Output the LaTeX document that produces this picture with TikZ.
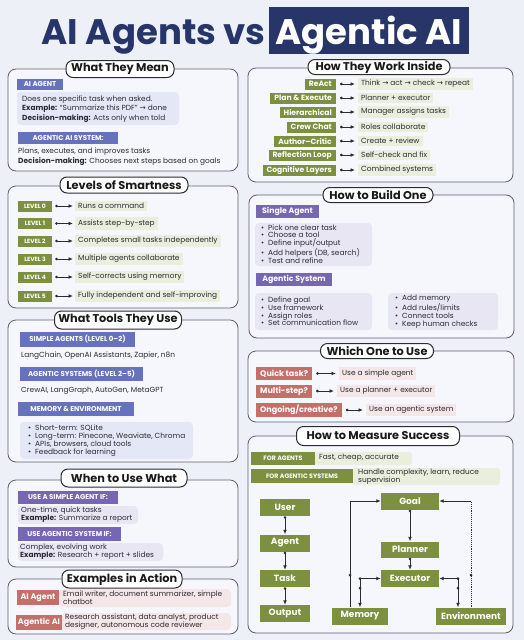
\documentclass[tikz,border=0pt]{standalone}
\usepackage{fontspec}
\setmainfont{Poppins}
\newfontfamily\arrfont{DejaVu Sans}
\usetikzlibrary{arrows.meta,calc}
\definecolor{bg}{HTML}{EEF0F8}
\definecolor{panelfill}{HTML}{F6F7FC}
\definecolor{panelline}{HTML}{5E5F6E}
\definecolor{navy}{HTML}{283569}
\definecolor{bluelab}{HTML}{6772BC}
\definecolor{purplelab}{HTML}{7766B4}
\definecolor{greenlab}{HTML}{7C9040}
\definecolor{redlab}{HTML}{C56F6A}
\definecolor{hlblue}{HTML}{E4E7F5}
\definecolor{hlpurple}{HTML}{E9E6F4}
\definecolor{hlgreen}{HTML}{EAEEDC}
\definecolor{hlred}{HTML}{F5E6E7}
\definecolor{ink}{HTML}{2B2B33}
\newcommand\mybul{\makebox[7pt][l]{•}}
\newcommand\rar{{\arrfont →}}
\begin{document}
\begin{tikzpicture}[x=1pt,y=-1pt,
  panel/.style={draw=panelline, line width=0.8pt, fill=panelfill, rounded corners=8pt},
  tab/.style={draw=ink, line width=1pt, fill=white, rounded corners=7pt, font=\bfseries\fontsize{11.3}{12}\selectfont, text=black!90, inner sep=0pt},
  lab/.style={text=white, font=\bfseries\fontsize{7}{8}\selectfont, inner sep=0pt},
  glab/.style={fill=greenlab, text=white, font=\bfseries\fontsize{7.6}{8.5}\selectfont, inner xsep=4pt, inner ysep=0pt, minimum height=11pt},
  rlab/.style={fill=redlab, text=white, font=\bfseries\fontsize{8}{9}\selectfont, inner xsep=4pt, inner ysep=0pt, minimum height=13pt, anchor=west},
  body/.style={font=\fontsize{7.4}{9.8}\selectfont, text=ink, inner sep=0pt, align=left, anchor=west},
  hl/.style={font=\fontsize{7.4}{8}\selectfont, text=ink, inner xsep=3pt, inner ysep=2.5pt, anchor=west, align=left},
  dnode/.style={fill=greenlab, text=white, font=\bfseries\fontsize{9}{10}\selectfont, inner sep=0pt, minimum height=17pt},
  conn/.style={draw=ink, line width=0.9pt, arrows={Circle[length=2.6pt]-Latex[length=4.5pt,width=3.8pt]}},
  arr/.style={draw=ink, line width=0.9pt, arrows={-Latex[length=4.5pt,width=3.8pt]}},
  arr2/.style={draw=ink, line width=0.9pt, arrows={Latex[length=4.5pt,width=3.8pt]-Latex[length=4.5pt,width=3.8pt]}}
]
\useasboundingbox (0,0) rectangle (524,640);
\fill[bg] (0,0) rectangle (524,640);

% ---------- Title ----------
\node[font=\bfseries\fontsize{35.5}{40}\selectfont, text=navy, anchor=base east, inner sep=0pt] (tA) at (266,44) {AI Agents vs};
\node[fill=navy, minimum width=200pt, minimum height=47pt, inner sep=0pt] (tB) at (369,30.5) {};
\node[font=\bfseries\fontsize{35.5}{40}\selectfont, text=white, anchor=base, inner sep=0pt] (tBt) at (369,44) {Agentic AI};

% ---------- What They Mean ----------
\draw[panel] (8,69) rectangle (238,171);
\node[tab, minimum width=108pt, minimum height=17pt] (t1) at (120,69) {What They Mean};
\node[lab, fill=bluelab, minimum width=46pt, minimum height=11pt] (aiag) at (40,84) {AI AGENT};
\fill[hlblue, rounded corners=4pt] (17,92) rectangle (179,125);
\node[body] (aiagtx) at (22,109) {Does one specific task when asked.\\
\textbf{Example:} “Summarize this PDF” \rar{} done\\
\textbf{Decision-making:} Acts only when told};
\node[lab, fill=bluelab, minimum width=100pt, minimum height=12pt] (agsys) at (68,138) {AGENTIC AI SYSTEM:};
\node[body] (agsystx) at (18,157) {Plans, executes, and improves tasks\\
\textbf{Decision-making:} Chooses next steps based on goals};

% ---------- Levels of Smartness ----------
\draw[panel] (8,186) rectangle (238,308);
\node[tab, minimum width=128pt, minimum height=16pt] (t2) at (124,185) {Levels of Smartness};
\foreach \i/\yy/\tx in {0/206/Runs a command, 1/223.5/Assists step-by-step, 2/241/Completes small tasks independently, 3/259/Multiple agents collaborate, 4/277/Self-corrects using memory, 5/296/Fully independent and self-improving}{
  \node[lab, fill=greenlab, font=\bfseries\fontsize{6}{7}\selectfont, minimum width=34pt, minimum height=11pt] (lv\i) at (35,\yy) {LEVEL \i};
  \node[hl, fill=hlgreen] (lt\i) at (75,\yy) {\tx};
  \draw[conn] ([xshift=3pt]lv\i.east) -- ([xshift=-2pt]lt\i.west);
}

% ---------- What Tools They Use ----------
\draw[panel] (8,320) rectangle (238,462);
\node[tab, minimum width=127pt, minimum height=18pt] (t3) at (118,320) {What Tools They Use};
\node[lab, fill=bluelab, minimum width=115pt, minimum height=15pt] (simp) at (77.5,339.5) {SIMPLE AGENTS (LEVEL 0–2)};
\node[body] (simptx) at (21,356) {LangChain, OpenAI Assistants, Zapier, n8n};
\node[lab, fill=bluelab, minimum width=123pt, minimum height=14pt] (agsy) at (81.5,374) {AGENTIC SYSTEMS (LEVEL 2–5)};
\node[body] (agsytx) at (21,391) {CrewAI, LangGraph, AutoGen, MetaGPT};
\node[lab, fill=bluelab, minimum width=116pt, minimum height=14pt] (memen) at (76,409) {MEMORY \& ENVIRONMENT};
\fill[hlblue, rounded corners=4pt] (20,422) rectangle (193,459);
\node[body, font=\fontsize{7.4}{8}\selectfont] (memtx) at (28,440.5) {\mybul Short-term: SQLite\\
\mybul Long-term: Pinecone, Weaviate, Chroma\\
\mybul APIs, browsers, cloud tools\\
\mybul Feedback for learning};

% ---------- When to Use What ----------
\draw[panel] (8,480) rectangle (238,567);
\node[tab, minimum width=126pt, minimum height=18pt] (t4) at (124,478) {When to Use What};
\node[lab, fill=purplelab, minimum width=100pt, minimum height=13pt] (usea) at (68,497.5) {USE A SIMPLE AGENT IF:};
\fill[hlpurple, rounded corners=4pt] (18,506) rectangle (138,524);
\node[body, font=\fontsize{7.4}{8}\selectfont] (useatx) at (21,515) {One-time, quick tasks\\
\textbf{Example:} Summarize a report};
\node[lab, fill=purplelab, minimum width=103pt, minimum height=14pt] (useb) at (69.5,534) {USE AGENTIC SYSTEM IF:};
\fill[hlpurple, rounded corners=4pt] (18,543) rectangle (163,561);
\node[body, font=\fontsize{7.4}{8}\selectfont] (usebtx) at (20,552) {Complex, evolving work\\
\textbf{Example:} Research + report + slides};

% ---------- Examples in Action ----------
\draw[panel] (8,579) rectangle (238,634);
\node[tab, minimum width=120pt, minimum height=18pt] (t5) at (122,579) {Examples in Action};
\fill[hlred, rounded corners=4pt] (59,589) rectangle (231,607);
\node[lab, fill=redlab, font=\bfseries\fontsize{8}{9}\selectfont, minimum width=42pt, minimum height=15pt] (exa) at (38,597.5) {AI Agent};
\node[body, font=\fontsize{7.4}{8}\selectfont] (exatx) at (63,598) {Email writer, document summarizer, simple\\chatbot};
\fill[hlred, rounded corners=4pt] (62,613) rectangle (231,630);
\node[lab, fill=redlab, font=\bfseries\fontsize{8}{9}\selectfont, minimum width=46pt, minimum height=15pt] (exb) at (39,622.5) {Agentic AI};
\node[body, font=\fontsize{7.4}{8}\selectfont] (exbtx) at (65,621.5) {Research assistant, data analyst, product\\designer, autonomous code reviewer};

% ---------- How They Work Inside ----------
\draw[panel] (248,68) rectangle (513,182);
\node[tab, minimum width=142pt, minimum height=15pt] (t6) at (379,67) {How They Work Inside};
\foreach \i/\yy/\la/\tx in {1/84/ReAct/{Think \rar{} act \rar{} check \rar{} repeat}, 2/98/Plan \& Execute/Planner + executor, 3/112/Hierarchical/Manager assigns tasks, 4/127/Crew Chat/Roles collaborate, 5/141/Author–Critic/Create + review, 6/155/Reflection Loop/Self-check and fix, 7/170/Cognitive Layers/Combined systems}{
  \node[glab, anchor=east] (hw\i) at (336,\yy) {\la};
  \node[hl, fill=hlgreen] (hwt\i) at (358,\yy) {\tx};
  \draw[conn] ([xshift=4pt]hw\i.east) -- ([xshift=-3pt]hwt\i.west);
}

% ---------- How to Build One ----------
\draw[panel] (249,195) rectangle (514,338);
\node[tab, minimum width=110pt, minimum height=15pt] (t7) at (378,195) {How to Build One};
\node[lab, fill=purplelab, font=\bfseries\fontsize{7.8}{8.5}\selectfont, minimum width=63pt, minimum height=13pt] (sing) at (287.5,211.5) {Single Agent};
\fill[hlpurple, rounded corners=4pt] (255,223) rectangle (372,266);
\node[body, font=\fontsize{7.4}{7.8}\selectfont] (singtx) at (261,244) {\mybul Pick one clear task\\
\mybul Choose a tool\\
\mybul Define input/output\\
\mybul Add helpers (DB, search)\\
\mybul Test and refine};
\node[lab, fill=purplelab, font=\bfseries\fontsize{7.8}{8.5}\selectfont, minimum width=76pt, minimum height=13pt] (agsb) at (294,279.5) {Agentic System};
\fill[hlpurple, rounded corners=4pt] (255,293) rectangle (372,330);
\node[body, font=\fontsize{7.4}{7.8}\selectfont] (agsbl) at (261,311.5) {\mybul Define goal\\
\mybul Use framework\\
\mybul Assign roles\\
\mybul Set communication flow};
\fill[hlpurple, rounded corners=4pt] (388,293) rectangle (498,330);
\node[body, font=\fontsize{7.4}{7.8}\selectfont] (agsbr) at (395,311.5) {\mybul Add memory\\
\mybul Add rules/limits\\
\mybul Connect tools\\
\mybul Keep human checks};

% ---------- Which One to Use ----------
\draw[panel] (248,351) rectangle (514,422);
\node[tab, minimum width=113pt, minimum height=15pt] (t8) at (377,351) {Which One to Use};
\node[rlab] (w1) at (256,373.5) {Quick task?};
\node[hl, fill=hlred] (w1t) at (339,373.5) {Use a simple agent};
\draw[conn] ([xshift=4pt]w1.east) -- ([xshift=-3pt]w1t.west);
\node[rlab] (w2) at (256,391) {Multi-step?};
\node[hl, fill=hlred] (w2t) at (337,391) {Use a planner + executor};
\draw[conn] ([xshift=4pt]w2.east) -- ([xshift=-3pt]w2t.west);
\node[rlab, minimum height=14pt] (w3) at (256,410) {Ongoing/creative?};
\node[hl, fill=hlred] (w3t) at (366,410) {Use an agentic system};
\draw[conn] ([xshift=4pt]w3.east) -- ([xshift=-3pt]w3t.west);

% ---------- How to Measure Success ----------
\draw[panel] (248,436) rectangle (513,633);
\node[tab, minimum width=163pt, minimum height=19pt] (t9) at (378,436) {How to Measure Success};
\fill[hlgreen, rounded corners=3pt] (314,452) rectangle (412,465);
\node[lab, fill=greenlab, font=\bfseries\fontsize{6.3}{7}\selectfont, minimum width=64pt, minimum height=13pt] (fa) at (283,458.5) {FOR AGENTS};
\node[body] (fatx) at (319,458) {Fast, cheap, accurate};
\fill[hlgreen, rounded corners=3pt] (352,468) rectangle (500,485);
\node[lab, fill=greenlab, font=\bfseries\fontsize{6.3}{7}\selectfont, minimum width=102pt, minimum height=14pt] (fs) at (302,476) {FOR AGENTIC SYSTEMS};
\node[body, font=\fontsize{7.4}{7.6}\selectfont] (fstx) at (358,476.5) {Handle complexity, learn, reduce\\supervision};

% diagram
\node[dnode, minimum width=50pt] (user) at (285,507.5) {User};
\node[dnode, minimum width=50pt] (agent) at (285,543) {Agent};
\node[dnode, minimum width=50pt] (task) at (285,578.5) {Task};
\node[dnode, minimum width=50pt] (output) at (285,613.5) {Output};
\draw[conn] (user) -- (agent);
\draw[conn] (agent) -- (task);
\draw[conn] (task) -- (output);

\node[dnode, minimum width=58pt] (goal) at (410,501) {Goal};
\node[dnode, minimum width=58pt, minimum height=16pt] (planner) at (410,549.5) {Planner};
\node[dnode, minimum width=58pt] (exec) at (410,578.5) {Executor};
\node[dnode, minimum width=56pt] (memory) at (360,616) {Memory};
\node[dnode, minimum width=70pt] (env) at (471,616) {Environment};

\draw[conn] (goal) -- (planner);
\draw[conn] (planner) -- (exec);
\draw[arr] ([xshift=-10pt]memory.north) |- (goal.west);
\fill[ink] (350,575) circle (1.5pt);
\draw[arr2] (exec.west) -| (memory.north);
\fill[ink] (360,578.5) circle (1.5pt);
\fill[ink] (360,588) circle (1.5pt);
\draw[arr2] (exec.east) -| ([xshift=-13pt]env.north);
\fill[ink] (458,578.5) circle (1.5pt);
\fill[ink] (458,588) circle (1.5pt);
\draw[ink, line width=0.9pt, densely dotted] (env.north) -- (env.north |- goal.east) coordinate (envc);
\draw[arr] (envc) -- (goal.east);
\fill[ink] (471,575) circle (1.5pt);
\end{tikzpicture}
\end{document}
